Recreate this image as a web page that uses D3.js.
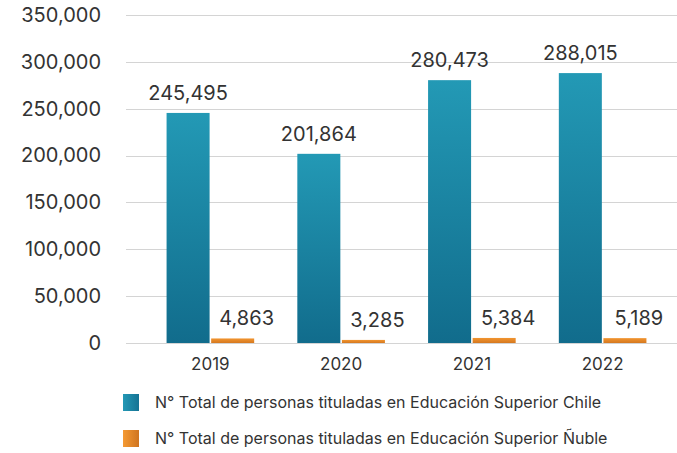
<!DOCTYPE html>
<html>
<head>
<meta charset="utf-8">
<script src="https://cdn.jsdelivr.net/npm/d3@7"></script>
<style>
  body { margin: 0; background: #fff; }
  svg text { font-family: Inter, "Open Sans", sans-serif; fill: #333; }
</style>
</head>
<body>
<svg id="chart" width="677" height="453"></svg>
<script>
const years = ["2019", "2020", "2021", "2022"];
const chile = [245495, 201864, 280473, 288015];
const nuble = [4863, 3285, 5384, 5189];
const seriesNames = [
  "N° Total de personas tituladas en Educación Superior Chile",
  "N° Total de personas tituladas en Educación Superior Ñuble"
];
const yTicks = [0, 50000, 100000, 150000, 200000, 250000, 300000, 350000];

const svg = d3.select("#chart");
const fmt = d3.format(",");

// gradients
const defs = svg.append("defs");
function grad(id, c1, c2, horiz) {
  const g = defs.append("linearGradient").attr("id", id)
    .attr("x1", 0).attr("y1", 0)
    .attr("x2", horiz ? 1 : 0).attr("y2", horiz ? 0 : 1);
  g.append("stop").attr("offset", "0%").attr("stop-color", c1);
  g.append("stop").attr("offset", "100%").attr("stop-color", c2);
}
grad("gChile", "#2399b5", "#116c8c", false);
grad("gNuble", "#f29530", "#d5781f", false);
grad("lChile", "#2398b5", "#157394", true);
grad("lNuble", "#f59a33", "#cf7420", true);

const y = d3.scaleLinear().domain([0, 350000]).range([343, 15]);
const x0 = d3.scaleBand().domain(years).range([145, 668])
  .paddingInner(0.33).paddingOuter(0.165);
const x1 = d3.scaleBand().domain([0, 1]).range([0, x0.bandwidth()]).paddingInner(0.035);

// gridlines
svg.append("g").selectAll("line").data(yTicks).join("line")
  .attr("x1", 126).attr("x2", 677)
  .attr("y1", d => Math.round(y(d)) + 0.5).attr("y2", d => Math.round(y(d)) + 0.5)
  .attr("stroke", "#d4d4d4").attr("stroke-width", 1);

// y axis labels
const yAxis = d3.axisLeft(y).tickValues(yTicks).tickFormat(fmt).tickSize(0).tickPadding(0);
svg.append("g").attr("transform", "translate(101,0)").call(yAxis)
  .call(g => g.select(".domain").remove())
  .selectAll("text").attr("font-size", 20).attr("fill", "#333");

// x axis labels
const xAxis = d3.axisBottom(x0).tickSize(0).tickPadding(0);
svg.append("g").attr("transform", "translate(0,358)").call(xAxis)
  .call(g => g.select(".domain").remove())
  .selectAll("text").attr("font-size", 17).attr("fill", "#333");

const data = years.map((yr, i) => ({ yr, vals: [chile[i], nuble[i]] }));
const groups = svg.append("g").selectAll("g").data(data).join("g")
  .attr("transform", d => `translate(${x0(d.yr)},0)`);

groups.selectAll("rect").data(d => d.vals.map((v, k) => ({ v, k }))).join("rect")
  .attr("x", d => x1(d.k))
  .attr("width", x1.bandwidth())
  .attr("y", d => y(d.v))
  .attr("height", d => y(0) - y(d.v))
  .attr("fill", d => d.k === 0 ? "url(#gChile)" : "url(#gNuble)");

groups.selectAll("text.val").data(d => d.vals.map((v, k) => ({ v, k }))).join("text")
  .attr("class", "val")
  .attr("x", d => x1(d.k) + x1.bandwidth() / 2 + (d.k === 1 ? 14 : 0))
  .attr("y", d => y(d.v) - 13)
  .attr("text-anchor", "middle")
  .attr("font-size", 20)
  .text(d => fmt(d.v));

// legend
const legend = svg.append("g").selectAll("g").data(seriesNames).join("g")
  .attr("transform", (d, i) => `translate(123,${394 + i * 36})`);
legend.append("rect").attr("width", 16).attr("height", 17)
  .attr("fill", (d, i) => i === 0 ? "url(#lChile)" : "url(#lNuble)");
legend.append("text").attr("x", 32).attr("y", 14).attr("font-size", 16).text(d => d);
</script>
</body>
</html>
